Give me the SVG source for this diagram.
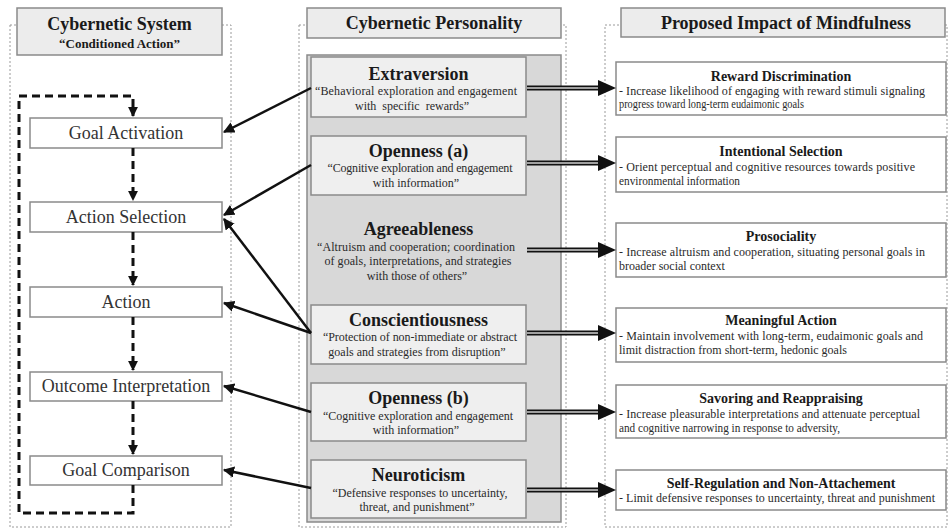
<svg xmlns="http://www.w3.org/2000/svg" width="948" height="529" viewBox="0 0 948 529" font-family="'Liberation Serif', 'Times New Roman', Tinos, 'DejaVu Serif', serif">
<style>
  .dot { fill: none; stroke: #9a9a9a; stroke-width: 1; stroke-dasharray: 2 2; }
  .hdr { fill: #ececec; stroke: #8a8a8a; stroke-width: 1.5; }
  text { font-family: 'Liberation Serif', 'Times New Roman', Tinos, 'DejaVu Serif', serif; }
  .hdrt { font-weight: bold; font-size: 18px; fill: #1a1a1a; text-anchor: middle; }
  .lbox { fill: #ffffff; stroke: #8a8a8a; stroke-width: 1.5; }
  .lt { font-size: 18px; fill: #333; text-anchor: middle; }
  .mbox { fill: #efefef; stroke: #8a8a8a; stroke-width: 1.5; }
  .mt { font-weight: bold; font-size: 18px; fill: #1a1a1a; text-anchor: middle; }
  .mq { font-size: 12px; fill: #2a2a2a; text-anchor: middle; }
  .rbox { fill: #ffffff; stroke: #8a8a8a; stroke-width: 1.5; }
  .rt { font-weight: bold; font-size: 14px; fill: #1a1a1a; text-anchor: middle; }
  .rd { font-size: 12px; fill: #2a2a2a; }
  .dash { fill: none; stroke: #111; stroke-width: 3; stroke-dasharray: 8 5; }
  .sol { fill: none; stroke: #111; stroke-width: 2.5; }
  .dbl { fill: none; stroke: #111; stroke-width: 5; }
  .dblin { fill: none; stroke: #d0d0d0; stroke-width: 1.3; }
  .head { fill: #111; }
</style>
<defs>
  <marker id="ah" viewBox="0 0 10 10" refX="9" refY="5" markerWidth="4.5" markerHeight="4.5" orient="auto" markerUnits="strokeWidth">
    <path d="M0,0 L10,5 L0,10 z" fill="#111"/>
  </marker>
  <marker id="ahd" viewBox="0 0 10 10" refX="9" refY="5" markerWidth="3.3" markerHeight="3.3" orient="auto" markerUnits="strokeWidth">
    <path d="M0,0 L10,5 L0,10 z" fill="#111"/>
  </marker>
</defs>
<rect width="948" height="529" fill="#ffffff"/>

<!-- column frames -->
<g id="frames">
  <rect class="dot" x="10" y="25" width="221" height="502"/>
  <rect class="dot" x="299" y="25" width="267" height="502"/>
  <rect class="dot" x="605" y="25" width="342" height="502"/>
</g>

<!-- headers -->
<g id="hdr-system">
  <rect class="hdr" x="17" y="8" width="205" height="47"/>
  <text class="hdrt" x="119.5" y="30">Cybernetic System</text>
  <text class="hdrt" x="119.5" y="48" style="font-size:13px">“Conditioned Action”</text>
</g>
<g id="hdr-personality">
  <rect class="hdr" x="307" y="8" width="254" height="30"/>
  <text class="hdrt" x="434" y="29">Cybernetic Personality</text>
</g>
<g id="hdr-mindfulness">
  <rect class="hdr" x="621" y="8" width="324" height="29"/>
  <text class="hdrt" x="786" y="29">Proposed Impact of Mindfulness</text>
</g>

<!-- left column nodes -->
<g id="goal-activation">
  <rect class="lbox" x="30" y="118" width="192" height="30"/>
  <text class="lt" x="126" y="139">Goal Activation</text>
</g>
<g id="action-selection">
  <rect class="lbox" x="30" y="202" width="192" height="30"/>
  <text class="lt" x="126" y="223">Action Selection</text>
</g>
<g id="action">
  <rect class="lbox" x="30" y="287" width="192" height="30"/>
  <text class="lt" x="126" y="308">Action</text>
</g>
<g id="outcome-interpretation">
  <rect class="lbox" x="30" y="372" width="192" height="29"/>
  <text class="lt" x="126" y="392">Outcome Interpretation</text>
</g>
<g id="goal-comparison">
  <rect class="lbox" x="30" y="456" width="192" height="29"/>
  <text class="lt" x="126" y="476">Goal Comparison</text>
</g>

<!-- middle column -->
<g id="personality-panel">
  <rect x="307" y="55" width="254" height="467" fill="#d8d8d8" stroke="#8a8a8a" stroke-width="1.5"/>
</g>
<g id="extraversion">
  <rect class="mbox" x="311" y="57" width="215" height="60"/>
  <text class="mt" x="418.5" y="80">Extraversion</text>
  <text class="mq" x="416" y="95" textLength="202" lengthAdjust="spacing">“Behavioral exploration and engagement</text>
  <text class="mq" x="412" y="110" word-spacing="3">with specific rewards”</text>
</g>
<g id="openness-a">
  <rect class="mbox" x="311" y="136" width="215" height="59"/>
  <text class="mt" x="418.5" y="157">Openness (a)</text>
  <text class="mq" x="420" y="172" textLength="185" lengthAdjust="spacing">“Cognitive exploration and engagement</text>
  <text class="mq" x="416" y="187">with information”</text>
</g>
<g id="agreeableness">
  <text class="mt" x="418.5" y="235">Agreeableness</text>
  <text class="mq" x="416" y="251" textLength="198" lengthAdjust="spacing">“Altruism and cooperation; coordination</text>
  <text class="mq" x="418" y="265" textLength="187" lengthAdjust="spacing">of goals, interpretations, and strategies</text>
  <text class="mq" x="417" y="280">with those of others”</text>
</g>
<g id="conscientiousness">
  <rect class="mbox" x="311" y="305" width="215" height="59"/>
  <text class="mt" x="418.5" y="326">Conscientiousness</text>
  <text class="mq" x="420" y="341" textLength="194" lengthAdjust="spacing">“Protection of non-immediate or abstract</text>
  <text class="mq" x="417" y="356">goals and strategies from disruption”</text>
</g>
<g id="openness-b">
  <rect class="mbox" x="311" y="383" width="215" height="58"/>
  <text class="mt" x="418.5" y="404">Openness (b)</text>
  <text class="mq" x="418" y="420" textLength="190" lengthAdjust="spacing">“Cognitive exploration and engagement</text>
  <text class="mq" x="416" y="434">with information”</text>
</g>
<g id="neuroticism">
  <rect class="mbox" x="311" y="460" width="215" height="58"/>
  <text class="mt" x="418.5" y="481">Neuroticism</text>
  <text class="mq" x="420" y="497">“Defensive responses to uncertainty,</text>
  <text class="mq" x="417" y="511">threat, and punishment”</text>
</g>

<!-- right column -->
<g id="reward-discrimination">
  <rect class="rbox" x="616" y="62" width="330" height="53"/>
  <text class="rt" x="781" y="81">Reward Discrimination</text>
  <text class="rd" x="619" y="95" textLength="306" lengthAdjust="spacing">- Increase likelihood of engaging with reward stimuli signaling</text>
  <text class="rd" x="619" y="108" textLength="185" lengthAdjust="spacingAndGlyphs">progress toward long-term eudaimonic goals</text>
</g>
<g id="intentional-selection">
  <rect class="rbox" x="616" y="137" width="330" height="55"/>
  <text class="rt" x="781" y="156">Intentional Selection</text>
  <text class="rd" x="619" y="171" textLength="296" lengthAdjust="spacing">- Orient perceptual and cognitive resources towards positive</text>
  <text class="rd" x="619" y="185" textLength="121" lengthAdjust="spacingAndGlyphs">environmental information</text>
</g>
<g id="prosociality">
  <rect class="rbox" x="616" y="223" width="330" height="54"/>
  <text class="rt" x="781" y="241">Prosociality</text>
  <text class="rd" x="619" y="256" textLength="306" lengthAdjust="spacing">- Increase altruism and cooperation, situating personal goals in</text>
  <text class="rd" x="619" y="270">broader social context</text>
</g>
<g id="meaningful-action">
  <rect class="rbox" x="616" y="308" width="330" height="54"/>
  <text class="rt" x="781" y="325">Meaningful Action</text>
  <text class="rd" x="619" y="340" textLength="304" lengthAdjust="spacing">- Maintain involvement with long-term, eudaimonic goals and</text>
  <text class="rd" x="619" y="354">limit distraction from short-term, hedonic goals</text>
</g>
<g id="savoring-reappraising">
  <rect class="rbox" x="616" y="385" width="330" height="53"/>
  <text class="rt" x="781" y="403">Savoring and Reappraising</text>
  <text class="rd" x="619" y="418" textLength="301" lengthAdjust="spacing">- Increase pleasurable interpretations and attenuate perceptual</text>
  <text class="rd" x="619" y="432" textLength="221" lengthAdjust="spacingAndGlyphs">and cognitive narrowing in response to adversity,</text>
</g>
<g id="self-regulation">
  <rect class="rbox" x="616" y="470" width="330" height="40"/>
  <text class="rt" x="781" y="488">Self-Regulation and Non-Attachement</text>
  <text class="rd" x="619" y="502" textLength="316" lengthAdjust="spacing">- Limit defensive responses to uncertainty, threat and punishment</text>
</g>

<!-- connectors -->
<g id="connectors">
  <path class="dash" d="M133,148 L133,200" marker-end="url(#ahd)"/>
  <path class="dash" d="M133,232 L133,285" marker-end="url(#ahd)"/>
  <path class="dash" d="M133,317 L133,370" marker-end="url(#ahd)"/>
  <path class="dash" d="M133,401 L133,454" marker-end="url(#ahd)"/>
  <path class="dash" d="M133,485 L133,513 L19,513 L19,96 L133,96 L133,116" marker-end="url(#ahd)"/>

  <path class="sol" d="M311,88 L224,132" marker-end="url(#ah)"/>
  <path class="sol" d="M311,165 L224,215" marker-end="url(#ah)"/>
  <path class="sol" d="M311,333 L224,219" marker-end="url(#ah)"/>
  <path class="sol" d="M311,333 L224,303" marker-end="url(#ah)"/>
  <path class="sol" d="M311,412 L224,386" marker-end="url(#ah)"/>
  <path class="sol" d="M311,488 L224,470" marker-end="url(#ah)"/>

  <g id="dbl-arrows">
    <path class="dbl" d="M527,88 L600,88 M527,163 L600,163 M527,250 L600,250 M527,333 L600,333 M527,412 L600,412 M527,490 L600,490"/>
    <path class="dblin" d="M527,88 L600,88 M527,163 L600,163 M527,250 L600,250 M527,333 L600,333 M527,412 L600,412 M527,490 L600,490"/>
    <path class="head" d="M598,80 L616,88 L598,96 z"/>
    <path class="head" d="M598,155 L616,163 L598,171 z"/>
    <path class="head" d="M598,242 L616,250 L598,258 z"/>
    <path class="head" d="M598,325 L616,333 L598,341 z"/>
    <path class="head" d="M598,404 L616,412 L598,420 z"/>
    <path class="head" d="M598,482 L616,490 L598,498 z"/>
  </g>
</g>
</svg>
